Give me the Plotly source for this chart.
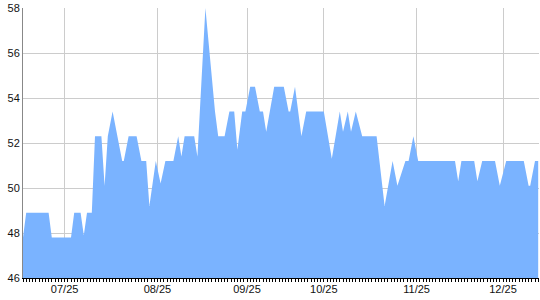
import plotly.graph_objects as go

# sample position (half-step units) and reading
day = [0, 2, 16, 18, 30, 32, 36, 38, 40, 43, 45, 49, 51, 53, 56, 62, 63, 66, 71, 74, 77, 79,
       83, 86, 89, 94, 97, 99, 101, 107, 109, 114, 120, 122, 126, 129, 132, 134, 137, 139,
       142, 145, 148, 150, 152, 157, 163, 166, 167, 170, 174, 177, 188, 193, 198, 200, 203,
       205, 208, 212, 221, 226, 231, 234, 239, 241, 244, 247, 270, 272, 274, 282, 284, 287,
       295, 298, 302, 313, 316, 317, 320, 322]
value = [47.8, 48.9, 48.9, 47.8, 47.8, 48.9, 48.9, 47.9, 48.9, 48.9, 52.3, 52.3, 50.1, 52.3,
         53.4, 51.2, 51.2, 52.3, 52.3, 51.2, 51.2, 49.2, 51.2, 50.2, 51.2, 51.2, 52.3, 51.4,
         52.3, 52.3, 51.4, 58.0, 53.4, 52.3, 52.3, 53.4, 53.4, 51.7, 53.4, 53.4, 54.5, 54.5,
         53.4, 53.4, 52.5, 54.5, 54.5, 53.4, 53.4, 54.5, 52.3, 53.4, 53.4, 51.3, 53.4, 52.5,
         53.4, 52.5, 53.4, 52.3, 52.3, 49.2, 51.2, 50.1, 51.2, 51.2, 52.3, 51.2, 51.2, 50.3,
         51.2, 51.2, 50.3, 51.2, 51.2, 50.1, 51.2, 51.2, 50.1, 50.1, 51.2, 51.2]

tick_pos = [26, 84, 140, 188, 246, 300]
tick_labels = ["07/25", "08/25", "09/25", "10/25", "11/25", "12/25"]
y_ticks = [46, 48, 50, 52, 54, 56, 58]

fill = "#7ab3ff"

fig = go.Figure()
fig.add_trace(go.Scatter(x=day, y=value, mode="lines", fill="tozeroy",
                         line=dict(color=fill, width=0), fillcolor=fill,
                         hoverinfo="skip", showlegend=False))

fig.update_layout(
    width=540, height=300,
    margin=dict(l=23, r=1, t=8, b=22),
    paper_bgcolor="white", plot_bgcolor="white",
    font=dict(family="Liberation Sans, Arial, sans-serif", size=11, color="#111"),
)
fig.update_xaxes(
    range=[0, 322.5], tickmode="array", tickvals=tick_pos, ticktext=tick_labels,
    showgrid=True, gridcolor="#cccccc", gridwidth=1,
    showline=True, linecolor="#000", linewidth=1,
    ticks="outside", ticklen=3, tickcolor="#000", tickwidth=1,
    ticklabelstandoff=-2,
    minor=dict(tickmode="linear", tick0=0, dtick=2, ticks="outside", ticklen=3,
               tickcolor="#000", tickwidth=1, showgrid=False),
    zeroline=False, tickfont=dict(size=11),
)
fig.update_yaxes(
    range=[46, 58], tickmode="array", tickvals=y_ticks,
    showgrid=True, gridcolor="#cccccc", gridwidth=1,
    showline=True, linecolor="#888", linewidth=1,
    ticks="", zeroline=False, tickfont=dict(size=11),
)

fig.write_html("out.html")
